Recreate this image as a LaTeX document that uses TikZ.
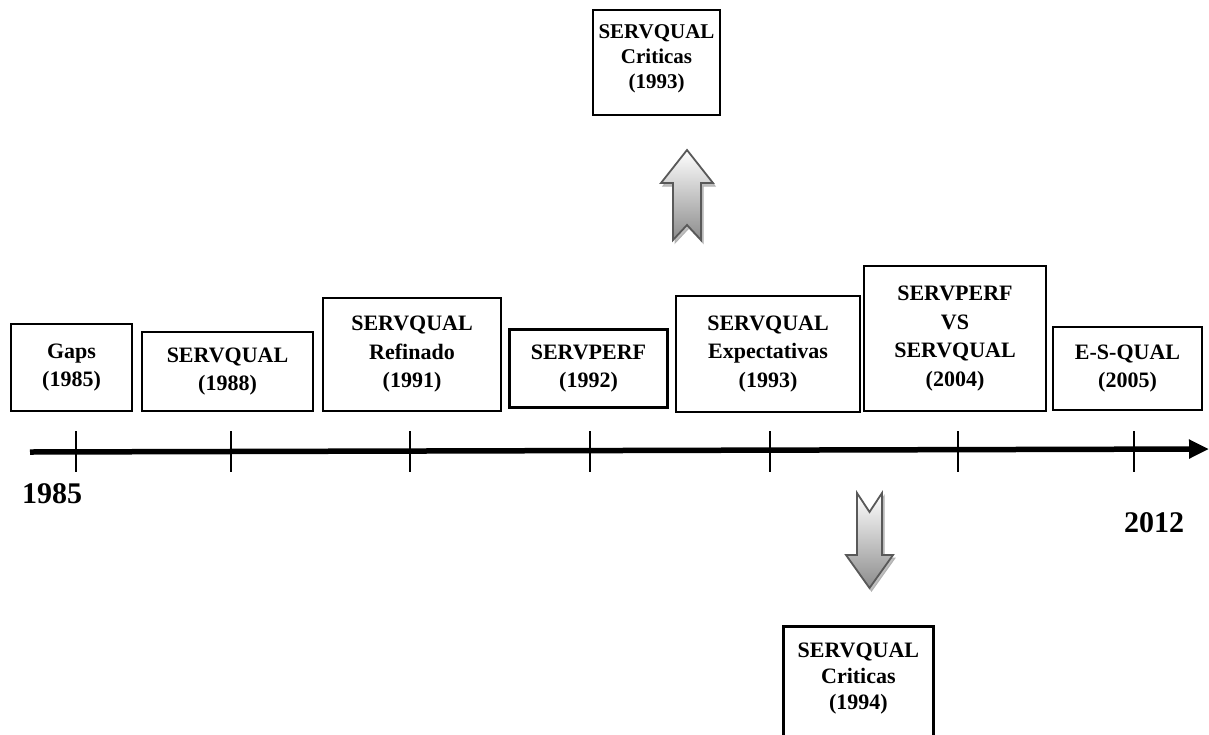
\documentclass[tikz,border=0pt]{standalone}
\usepackage{fontspec}
\setmainfont{Liberation Serif}
\usetikzlibrary{arrows.meta,shadings}
\tikzset{
  box/.style={draw=black, line width=2.8pt, fill=white, inner sep=0pt, align=center,
    font=\bfseries\fontsize{22}{28.5}\selectfont},
  boxtext/.style={draw=none, fill=none, inner sep=0pt, align=center},
  tick/.style={line width=1.4pt},
  axis/.style={line width=5.5pt, -{Triangle[length=20pt,width=18pt]}},
  yearlbl/.style={font=\bfseries\fontsize{30}{32}\selectfont, inner sep=0pt},
  blockarrow/.style={draw=black!65, line width=1.8pt, line join=miter, top color=white, bottom color=black!45},
  arrowshadow/.style={fill=black!25, draw=black!30, line width=1pt}
}
\begin{document}
\begin{tikzpicture}[x=1pt,y=-1pt]
\useasboundingbox (0,0) rectangle (1209,734);
% boxes
\node[box, minimum width=121, minimum height=87] (b1) at (71.5,367.5) {Gaps\\(1985)};
\node[box, minimum width=171, minimum height=79] (b2) at (227.5,371.5) {SERVQUAL\\(1988)};
\node[box, minimum width=178, minimum height=113] (b3) at (412,354.5) {SERVQUAL\\Refinado\\(1991)};
\node[box, minimum width=158, minimum height=78] (b4) at (588.5,368.5) {SERVPERF\\(1992)};
\node[box, minimum width=184, minimum height=116] (b5) at (768,354) {SERVQUAL\\Expectativas\\(1993)};
\node[box, minimum width=182, minimum height=145] (b6) at (955,338.5) {SERVPERF\\VS\\SERVQUAL\\(2004)};
\node[box, minimum width=149, minimum height=83] (b7) at (1127.5,368.5) {E-S-QUAL\\(2005)};
\node[box, minimum width=127, minimum height=105] (top) at (656.5,62.5) {};
\node[box, boxtext, anchor=north, font=\bfseries\fontsize{21}{25}\selectfont] (toptxt) at ([yshift=-15pt]top.north) {SERVQUAL\\Criticas\\(1993)};
\node[box, minimum width=150, minimum height=150, anchor=north west] (bot) at (782,625) {};
\node[box, boxtext, anchor=north, font=\bfseries\fontsize{22}{26}\selectfont] (bottxt) at ([yshift=-17pt]bot.north) {SERVQUAL\\Criticas\\(1994)};
% axis
\coordinate (axs) at (30,452);
\coordinate (axe) at (1209,449);
\draw[axis] (axs) -- (axe);
\foreach \x in {76,231,410,590,770,958,1134}{
  \draw[tick] (\x,431) -- (\x,472);
}
\node[yearlbl] (y1) at (52,494) {1985};
\node[yearlbl] (y2) at (1154,523) {2012};
% up arrow
\path[arrowshadow, shift={(2,3)}] (673,240) -- (673,183) -- (661,183) -- (687,150) -- (713,183) -- (701,183) -- (701,240) -- (687,225) -- cycle;
\path[blockarrow] (673,240) -- (673,183) -- (661,183) -- (687,150) -- (713,183) -- (701,183) -- (701,240) -- (687,225) -- cycle;
% down arrow
\path[arrowshadow, shift={(2,3)}] (857,493) -- (869.5,512) -- (882,493) -- (882,555) -- (893,555) -- (869.5,588) -- (846,555) -- (857,555) -- cycle;
\path[blockarrow] (857,493) -- (869.5,512) -- (882,493) -- (882,555) -- (893,555) -- (869.5,588) -- (846,555) -- (857,555) -- cycle;
\end{tikzpicture}
\end{document}
